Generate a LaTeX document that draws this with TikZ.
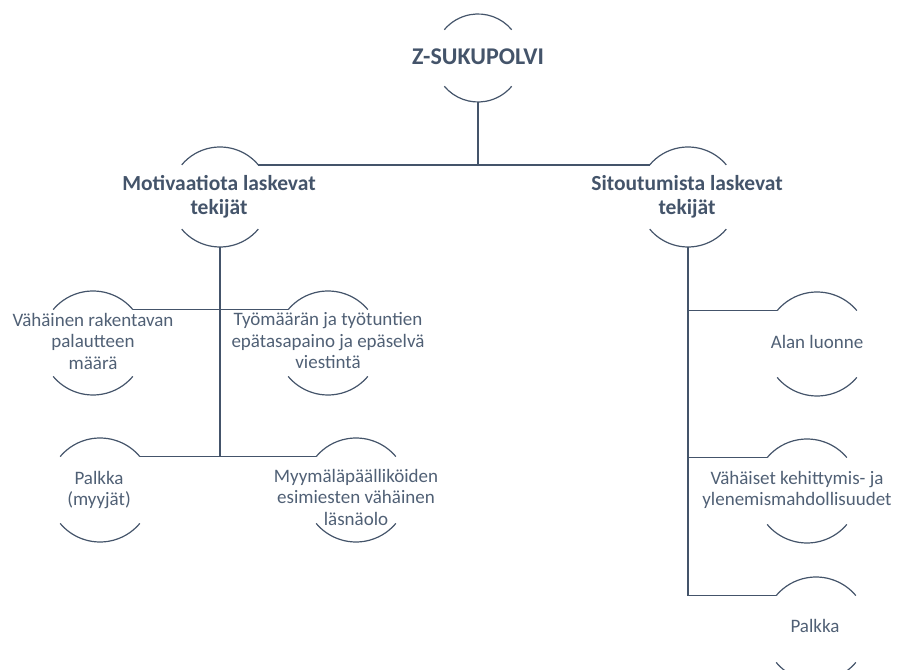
\documentclass[tikz,border=0pt]{standalone}
\usepackage{fontspec}
\setmainfont{Carlito}
\definecolor{slate}{HTML}{44546A}
\definecolor{slatetext}{HTML}{506075}
\newcommand\ringarcs[2]{%
  \draw[ringline] (#1.40) arc[start angle=40,end angle=140,radius=#2pt];
  \draw[ringline] (#1.220) arc[start angle=220,end angle=320,radius=#2pt];}
\begin{document}
\begin{tikzpicture}[x=1pt,y=1pt,
  ring/.style={circle,inner sep=0pt,outer sep=0pt,minimum size=#1},
  ringline/.style={draw=slate,line width=1.2pt},
  conn/.style={draw=slate,line width=1.4pt},
  titletext/.style={inner sep=0pt,text=slate,font=\fontsize{24}{28}\selectfont\bfseries,align=center},
  headtext/.style={inner sep=0pt,text=slate,font=\fontsize{21.5}{24}\selectfont\bfseries,align=center},
  itemtext/.style={inner sep=0pt,text=slatetext,font=\fontsize{19}{21.5}\selectfont,align=center}]
\useasboundingbox (0,0) rectangle (901,669);
% ring nodes
\node[ring=88pt]  (title)    at (478,611) {};
\node[ring=100pt] (motiv)    at (220,472) {};
\node[ring=100pt] (sitout)   at (688,472) {};
\node[ring=104pt] (vah)      at (93,326) {};
\node[ring=104pt] (tyo)      at (328,326) {};
\node[ring=104pt] (palkka)   at (100,179) {};
\node[ring=104pt] (myym)     at (356,179) {};
\node[ring=104pt] (alan)     at (817,325) {};
\node[ring=104pt] (vahaiset) at (807,178) {};
\node[ring=104pt] (palkkab)  at (816,40) {};
% arcs
\ringarcs{title}{44}
\ringarcs{motiv}{50}
\ringarcs{sitout}{50}
\ringarcs{vah}{52}
\ringarcs{tyo}{52}
\ringarcs{palkka}{52}
\ringarcs{myym}{52}
\ringarcs{alan}{52}
\ringarcs{vahaiset}{52}
\ringarcs{palkkab}{52}
% texts
\node[titletext] (title-t) at (478,612) {Z-SUKUPOLVI};
\node[headtext] (motiv-t) at (219,472) {Motivaatiota laskevat\\tekijät};
\node[headtext] (sitout-t) at (687,472) {Sitoutumista laskevat\\tekijät};
\node[itemtext] (vah-t) at (93,328) {Vähäinen rakentavan\\palautteen\\määrä};
\node[itemtext] (tyo-t) at (328,328) {Työmäärän ja työtuntien\\epätasapaino ja epäselvä\\viestintä};
\node[itemtext] (palkka-t) at (99,179) {Palkka\\(myyjät)};
\node[itemtext] (myym-t) at (356,172) {Myymäläpäälliköiden\\esimiesten vähäinen\\läsnäolo};
\node[itemtext] (alan-t) at (817,327) {Alan luonne};
\node[itemtext] (vahaiset-t) at (797,179) {Vähäiset kehittymis- ja\\ylenemismahdollisuudet};
\node[itemtext] (palkkab-t) at (815,43) {Palkka};
% connectors
\draw[conn] (title.south) -- (title.south |- motiv.40);
\draw[conn] (motiv.40) -- (sitout.140);
\draw[conn] (motiv.south) -- (motiv.south |- palkka.40);
\draw[conn] (vah.40) -- (tyo.140);
\draw[conn] (palkka.40) -- (myym.140);
\draw[conn] (sitout.south) |- (palkkab.140);
\draw[conn] (sitout.south |- alan.140) -- (alan.140);
\draw[conn] (sitout.south |- vahaiset.140) -- (vahaiset.140);
\end{tikzpicture}
\end{document}
